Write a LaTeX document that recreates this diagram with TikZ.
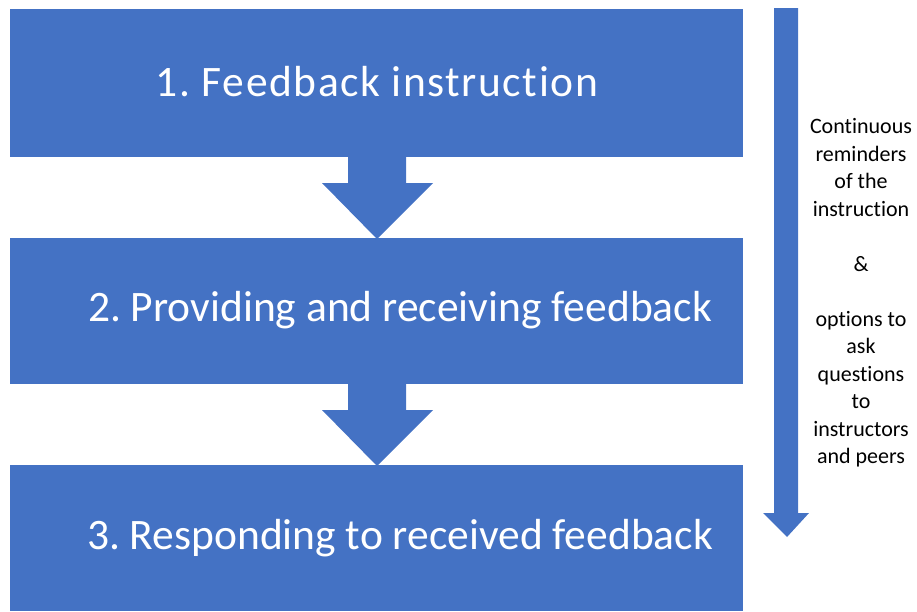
\documentclass[tikz,border=0pt]{standalone}
\usepackage{fontspec}
\setmainfont{Carlito}[Ligatures=NoCommon]
\definecolor{officeblue}{HTML}{4472C4}
\begin{document}
\frenchspacing
\begin{tikzpicture}[x=1pt,y=-1pt,
  stage/.style={fill=officeblue,draw=none},
  stagetext/.style={text=white,font=\fontsize{43.5}{48}\selectfont,anchor=center},
  flow/.style={fill=officeblue,draw=none},
  sidenote/.style={align=center,font=\fontsize{22}{27.5}\selectfont,text=black,anchor=center}]
\useasboundingbox (0,0) rectangle (917,611);
% stage boxes
\fill[stage] (10,9) rectangle (743,157);
\fill[stage] (10,238) rectangle (743,384);
\fill[stage] (10,465) rectangle (743,611);
\node[stagetext] (s1) at (377,82) {\addfontfeature{LetterSpace=3.6}1. Feedback instruction};
\node[stagetext] (s2) at (400,310) {2. Providing and receiving feedback};
\node[stagetext] (s3) at (400,538) {3. Responding to received feedback};
% block arrows between stages
\fill[flow] (348,156) -- (406,156) -- (406,183) -- (433,183) -- (377,239)
  -- (322,183) -- (348,183) -- cycle;
\fill[flow] (348,383) -- (406,383) -- (406,410) -- (433,410) -- (377,466)
  -- (322,410) -- (348,410) -- cycle;
% long side arrow
\fill[flow] (774,8) -- (798,8) -- (798,513) -- (809,513) -- (787,537)
  -- (763,513) -- (774,513) -- cycle;
\node[sidenote] (note) at (861,293) {Continuous\\reminders\\of the\\instruction\\[27.5pt]\&\\[27.5pt]options to\\ask\\questions\\to\\instructors\\and peers};
\end{tikzpicture}
\end{document}
